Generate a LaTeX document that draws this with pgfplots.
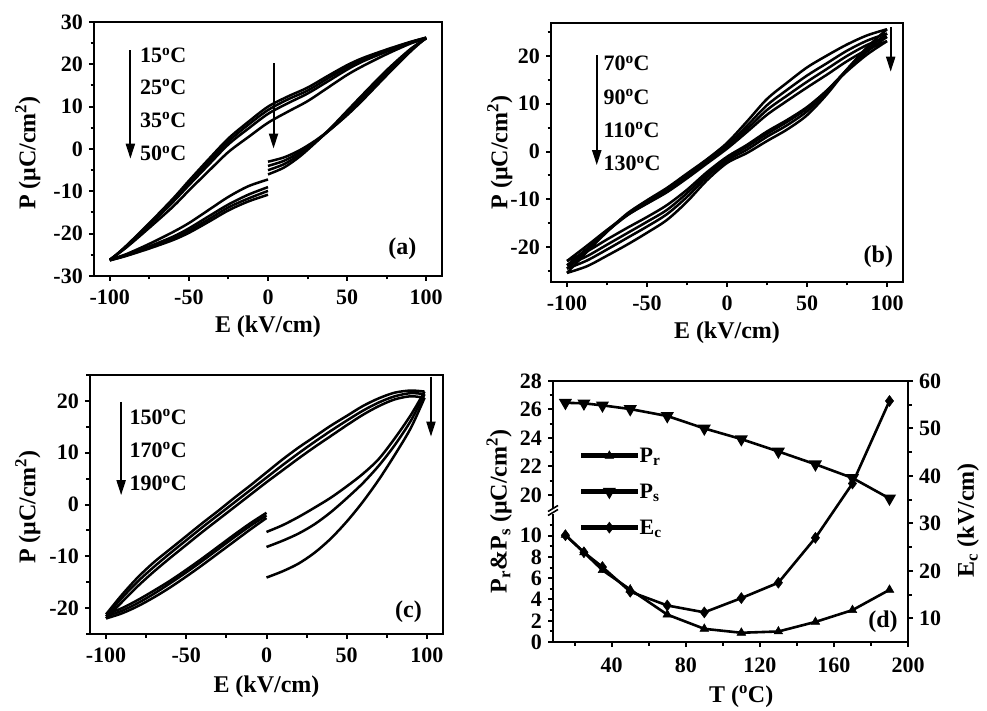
\documentclass[border=0pt]{standalone}
\usepackage{fontspec}
\setmainfont{Liberation Serif}
\usepackage{pgfplots}
\pgfplotsset{compat=1.18}
\usetikzlibrary{arrows.meta}

\newcommand\tickfont{\fontsize{22}{24}\selectfont\bfseries}
\newcommand\labfont{\fontsize{24}{28}\selectfont\bfseries}
\newcommand\annfont{\fontsize{22}{24}\selectfont\bfseries}

\tikzset{
  arr/.style={-{Triangle[length=15pt,width=9pt]}, line width=2pt},
  ann/.style={font=\annfont, anchor=west, inner sep=0pt},
}
\pgfplotsset{
  base/.style={scale only axis, anchor=south west, tick align=outside,
    axis line style={line width=2.6pt,-},
    major tick length=5pt, minor tick length=3.5pt,
    tick style={black,line width=2pt},
    tick label style={font=\tickfont, inner sep=2pt},
    xticklabel style={yshift=-7pt},
    /pgf/number format/assume math mode=true,
    clip mode=individual},
  yl/.style={yticklabel style={xshift=-4pt}},
  panel/.style={base, yl, xmin=-110, xmax=110, xtick={-100,-50,0,50,100},
    minor xtick={-75,-25,25,75}, tick pos=left,
    xlabel={E (kV/cm)}, ylabel={P (μC/cm\textsuperscript{2})}},
  loop/.style={black, line width=2.5pt, smooth, mark=none},
  dline/.style={black, line width=2.6pt, mark size=5pt,
    mark options={solid, line width=0.5pt, fill=black}},
}

\begin{document}
\begin{tikzpicture}[x=1pt,y=1pt]
\useasboundingbox (0,0) rectangle (987,710);

% ---------------- (a) ----------------
\begin{axis}[panel, at={(94pt,434pt)}, width=348pt, height=254pt,
  ymin=-30, ymax=30, ytick={-30,-20,...,30}, minor ytick={-25,-15,...,25},
  xlabel style={at={(axis description cs:0.5,-0.2)}, anchor=center, font=\labfont},
  ylabel style={at={(axis description cs:-0.19,0.484)}, anchor=center, font=\labfont}]
% 15 C
\addplot[loop] coordinates {(0,-3.0) (10,-2.0) (20,-0.3) (30,2.0) (40,4.8) (50,8.0) (60,11.6) (75,17.4) (90,23.0) (100,26.3)};
\addplot[loop] coordinates {(100,26.3) (90,25.3) (75,23.5) (60,21.5) (50,19.8) (37.5,17.2) (25,14.5) (12.5,12.4) (0,10.0) (-12.5,6.4) (-25,2.5) (-37.5,-2.4) (-50,-7.5) (-60,-11.7) (-75,-17.5) (-90,-23.0) (-100,-26.3)};
\addplot[loop] coordinates {(-100,-26.3) (-90,-25.3) (-75,-23.5) (-60,-21.5) (-50,-19.8) (-37.5,-17.2) (-25,-14.5) (-12.5,-12.4) (0,-10.8)};
% 25 C
\addplot[loop] coordinates {(0,-4.0) (10,-2.8) (20,-0.8) (30,1.8) (40,4.8) (50,8.2) (60,11.9) (75,17.7) (90,23.2) (100,26.3)};
\addplot[loop] coordinates {(100,26.3) (90,25.2) (75,23.3) (60,21.1) (50,19.3) (37.5,16.6) (25,13.8) (12.5,11.7) (0,9.2) (-12.5,5.7) (-25,1.8) (-37.5,-3.0) (-50,-8.0) (-60,-12.1) (-75,-17.7) (-90,-23.1) (-100,-26.3)};
\addplot[loop] coordinates {(-100,-26.3) (-90,-25.2) (-75,-23.3) (-60,-21.1) (-50,-19.3) (-37.5,-16.6) (-25,-13.8) (-12.5,-11.7) (0,-9.9)};
% 35 C
\addplot[loop] coordinates {(0,-5.0) (10,-3.6) (20,-1.3) (30,1.6) (40,4.9) (50,8.5) (60,12.3) (75,18.0) (90,23.4) (100,26.2)};
\addplot[loop] coordinates {(100,26.2) (90,25.1) (75,23.0) (60,20.7) (50,18.75) (37.5,15.9) (25,13.1) (12.5,10.8) (0,8.3) (-12.5,4.8) (-25,1.1) (-37.5,-3.7) (-50,-8.55) (-60,-12.5) (-75,-18.0) (-90,-23.2) (-100,-26.2)};
\addplot[loop] coordinates {(-100,-26.2) (-90,-25.1) (-75,-23.0) (-60,-20.7) (-50,-18.75) (-37.5,-15.9) (-25,-13.1) (-12.5,-10.8) (0,-9.0)};
% 50 C
\addplot[loop] coordinates {(0,-6.0) (10,-4.4) (20,-1.8) (30,1.5) (40,5.1) (50,9.0) (60,12.9) (75,18.6) (90,23.6) (100,26.1)};
\addplot[loop] coordinates {(100,26.1) (90,24.9) (75,22.4) (60,19.6) (50,17.5) (37.5,14.4) (25,11.3) (12.5,8.8) (0,6.2) (-12.5,2.8) (-25,-0.7) (-37.5,-5.2) (-50,-9.8) (-60,-13.6) (-75,-18.6) (-90,-23.4) (-100,-26.1)};
\addplot[loop] coordinates {(-100,-26.1) (-90,-24.9) (-75,-22.4) (-60,-19.6) (-50,-17.5) (-37.5,-14.4) (-25,-11.3) (-12.5,-8.8) (0,-7.2)};
\draw[arr] (axis cs:-87,23.3) -- (axis cs:-87,-2.3);
\draw[arr] (axis cs:3.5,20.2) -- (axis cs:3.5,0.1);
\node[ann] at (axis cs:-81,22.1) {15\textsuperscript{o}C};
\node[ann] at (axis cs:-81,14.6) {25\textsuperscript{o}C};
\node[ann] at (axis cs:-81,6.8) {35\textsuperscript{o}C};
\node[ann] at (axis cs:-81,-1.1) {50\textsuperscript{o}C};
\node[font=\labfont] at (axis cs:85,-23.5) {(a)};
\end{axis}

% ---------------- (b) ----------------
\begin{axis}[panel, at={(551pt,428pt)}, width=352pt, height=259pt,
  ymin=-27.3, ymax=26.9, ytick={-20,-10,...,20}, minor ytick={-25,-15,...,25},
  xlabel style={at={(axis description cs:0.5,-0.197)}, anchor=center, font=\labfont},
  ylabel style={at={(axis description cs:-0.145,0.5)}, anchor=center, font=\labfont}]
% 70 C
\addplot[loop] coordinates {(100,25.6) (87.5,24.3) (75,22.4) (62.5,20.1) (50,17.6) (37.5,14.4) (25,11.0) (12.5,6.3) (0,1.8) (-12.5,-1.6) (-25,-4.6) (-37.5,-7.6) (-50,-10.2) (-62.5,-13.0) (-75,-16.8) (-87.5,-21.0) (-100,-25.4)};
\addplot[loop] coordinates {(-100,-25.4) (-87.5,-24.0) (-75,-21.8) (-62.5,-19.5) (-50,-17.0) (-37.5,-14.3) (-25,-10.5) (-12.5,-6.0) (0,-2.4) (12.5,-0.3) (25,2.2) (37.5,4.6) (50,7.6) (62.5,12.0) (75,17.2) (87.5,21.8) (100,25.6)};
% 90 C
\addplot[loop] coordinates {(100,24.7) (87.5,23.2) (75,21.1) (62.5,18.5) (50,15.9) (37.5,12.9) (25,9.7) (12.5,5.4) (0,1.3) (-12.5,-2.0) (-25,-5.1) (-37.5,-8.1) (-50,-10.6) (-62.5,-13.2) (-75,-16.7) (-87.5,-20.6) (-100,-24.5)};
\addplot[loop] coordinates {(-100,-24.5) (-87.5,-22.8) (-75,-20.5) (-62.5,-18.1) (-50,-15.7) (-37.5,-13.1) (-25,-9.5) (-12.5,-5.3) (0,-1.9) (12.5,0.4) (25,3.1) (37.5,5.5) (50,8.4) (62.5,12.4) (75,17.2) (87.5,21.3) (100,24.7)};
% 110 C
\addplot[loop] coordinates {(100,24.0) (87.5,22.3) (75,20.0) (62.5,17.3) (50,14.6) (37.5,11.7) (25,8.7) (12.5,4.7) (0,0.9) (-12.5,-2.3) (-25,-5.4) (-37.5,-8.4) (-50,-10.8) (-62.5,-13.4) (-75,-16.7) (-87.5,-20.3) (-100,-23.8)};
\addplot[loop] coordinates {(-100,-23.8) (-87.5,-21.9) (-75,-19.5) (-62.5,-17.1) (-50,-14.7) (-37.5,-12.2) (-25,-8.7) (-12.5,-4.8) (0,-1.5) (12.5,1.0) (25,3.7) (37.5,6.2) (50,9.0) (62.5,12.8) (75,17.1) (87.5,20.9) (100,24.0)};
% 130 C
\addplot[loop] coordinates {(100,23.1) (87.5,21.3) (75,18.9) (62.5,16.1) (50,13.4) (37.5,10.6) (25,7.7) (12.5,4.1) (0,0.6) (-12.5,-2.5) (-25,-5.6) (-37.5,-8.5) (-50,-10.9) (-62.5,-13.3) (-75,-16.4) (-87.5,-19.7) (-100,-22.9)};
\addplot[loop] coordinates {(-100,-22.9) (-87.5,-20.9) (-75,-18.4) (-62.5,-16.0) (-50,-13.7) (-37.5,-11.2) (-25,-8.0) (-12.5,-4.3) (0,-1.1) (12.5,1.4) (25,4.2) (37.5,6.6) (50,9.3) (62.5,12.8) (75,16.8) (87.5,20.3) (100,23.1)};
\draw[arr] (axis cs:-81.4,20.2) -- (axis cs:-81.4,-2.85);
\draw[arr] (axis cs:102.3,26.1) -- (axis cs:102.3,16.7);
\node[ann] at (axis cs:-77.3,18.4) {70\textsuperscript{o}C};
\node[ann] at (axis cs:-77.3,11.4) {90\textsuperscript{o}C};
\node[ann] at (axis cs:-77.3,4.5) {110\textsuperscript{o}C};
\node[ann] at (axis cs:-77.3,-2.5) {130\textsuperscript{o}C};
\node[font=\labfont] at (axis cs:94.6,-22) {(b)};
\end{axis}

% ---------------- (c) ----------------
\begin{axis}[panel, at={(90pt,76pt)}, width=353pt, height=259pt,
  ymin=-25, ymax=25, ytick={-20,-10,...,20}, minor ytick={-25,-15,...,25},
  xlabel style={at={(axis description cs:0.5,-0.205)}, anchor=center, font=\labfont},
  ylabel style={at={(axis description cs:-0.176,0.49)}, anchor=center, font=\labfont}]
% 150 C
\addplot[loop] coordinates {(0,-5.3) (10,-4.0) (20,-2.4) (30,-0.6) (40,1.3) (50,3.5) (60,5.9) (70,8.8) (80,12.8) (90,17.3) (98.5,21.8)};
\addplot[loop] coordinates {(98.5,21.8) (90,22.0) (80,21.6) (70,20.5) (60,19.0) (50,17.1) (40,15.2) (30,13.1) (20,11.0) (10,8.7) (0,6.2) (-10,3.7) (-20,1.3) (-30,-1.2) (-40,-3.6) (-50,-6.1) (-60,-8.6) (-70,-11.1) (-80,-14.0) (-90,-17.4) (-100,-21.2)};
\addplot[loop] coordinates {(-100,-21.2) (-90,-20.0) (-80,-18.4) (-70,-16.6) (-60,-14.7) (-50,-12.6) (-40,-10.4) (-30,-8.1) (-20,-5.8) (-10,-3.6) (0,-1.6)};
% 170 C
\addplot[loop] coordinates {(0,-8.2) (10,-7.0) (20,-5.6) (30,-3.8) (40,-1.5) (50,1.2) (60,4.1) (70,7.5) (80,11.5) (90,16.2) (98.5,21.3)};
\addplot[loop] coordinates {(98.5,21.3) (90,21.5) (80,20.9) (70,19.7) (60,18.1) (50,16.2) (40,14.2) (30,12.1) (20,9.9) (10,7.6) (0,5.2) (-10,2.8) (-20,0.4) (-30,-2.0) (-40,-4.4) (-50,-6.9) (-60,-9.4) (-70,-12.0) (-80,-14.8) (-90,-18.0) (-100,-21.6)};
\addplot[loop] coordinates {(-100,-21.6) (-90,-20.5) (-80,-19.0) (-70,-17.2) (-60,-15.2) (-50,-13.1) (-40,-10.9) (-30,-8.6) (-20,-6.3) (-10,-4.1) (0,-2.1)};
% 190 C
\addplot[loop] coordinates {(0,-14.1) (10,-12.9) (20,-11.4) (30,-9.3) (40,-6.6) (50,-3.3) (60,0.5) (70,4.8) (80,9.6) (90,14.8) (98.5,20.6)};
\addplot[loop] coordinates {(98.5,20.6) (90,20.9) (80,20.3) (70,19.0) (60,17.3) (50,15.3) (40,13.2) (30,11.1) (20,8.9) (10,6.6) (0,4.3) (-10,1.9) (-20,-0.5) (-30,-2.9) (-40,-5.3) (-50,-7.8) (-60,-10.3) (-70,-12.9) (-80,-15.7) (-90,-18.8) (-100,-22.0)};
\addplot[loop] coordinates {(-100,-22.0) (-90,-21.0) (-80,-19.6) (-70,-17.9) (-60,-16.0) (-50,-13.9) (-40,-11.7) (-30,-9.4) (-20,-7.1) (-10,-4.8) (0,-2.6)};
\draw[arr] (axis cs:-90.6,19.8) -- (axis cs:-90.6,1.8);
\draw[arr] (axis cs:102.5,24.7) -- (axis cs:102.5,13.1);
\node[ann] at (axis cs:-85.4,16.9) {150\textsuperscript{o}C};
\node[ann] at (axis cs:-85.4,10.5) {170\textsuperscript{o}C};
\node[ann] at (axis cs:-85.4,4.1) {190\textsuperscript{o}C};
\node[font=\labfont] at (axis cs:88.5,-20.7) {(c)};
\end{axis}

% ---------------- (d) ----------------
% lower left segment: P_r
\begin{axis}[base, yl, at={(553pt,68pt)}, width=355pt, height=130.3pt,
  xmin=8.3, xmax=200, ymin=0, ymax=12.26,
  axis x line=none, axis y line*=left, axis line style={line width=2.6pt,-},
  ytick={0,2,...,10}, minor ytick={1,3,...,11}]
\addplot[dline, mark=triangle*] coordinates {(15,10.07) (25,8.43) (35,6.76) (50,4.94) (70,2.58) (90,1.24) (110,0.87) (130,0.99) (150,1.89) (170,3.0) (190,4.91)};
\end{axis}
% upper left segment: P_s
\begin{axis}[base, yl, at={(553pt,198.3pt)}, width=355pt, height=130.7pt,
  xmin=8.3, xmax=200, ymin=18.82, ymax=28,
  axis x line=none, axis y line*=left, axis line style={line width=2.6pt,-},
  ytick={20,22,...,28}, minor ytick={21,23,25,27}]
\addplot[dline, mark=triangle*, mark options={rotate=180}] coordinates {(15,26.47) (25,26.43) (35,26.29) (50,26.03) (70,25.54) (90,24.67) (110,23.92) (130,23.05) (150,22.15) (170,21.19) (190,19.75)};
\end{axis}
% right axis: E_c, box, x ticks, legend
\begin{axis}[base, at={(553pt,68pt)}, width=355pt, height=261pt,
  xmin=8.3, xmax=200, ymin=5, ymax=60,
  xtick={40,80,...,200}, minor xtick={20,60,...,180},
  ytick={10,20,...,60}, minor ytick={15,25,...,55},
  xtick pos=left, ytick pos=right, yticklabel pos=right,
  yticklabel style={xshift=4pt}, xticklabel style={yshift=-2pt},
  xlabel={T (\textsuperscript{o}C)}, ylabel={E\textsubscript{c} (kV/cm)},
  xlabel style={at={(axis description cs:0.53,-0.21)}, anchor=center, font=\labfont},
  ylabel style={at={(axis description cs:1.169,0.467)}, anchor=center, font=\labfont},
  legend image code/.code={\fill[black] (0pt,-1.3pt) rectangle (54pt,1.3pt);
    \draw[mark repeat=2,mark phase=2,#1] plot coordinates {(0pt,0pt) (27pt,0pt) (54pt,0pt)};},
  legend style={at={(axis description cs:0.07,0.76)}, anchor=north west, draw=none, fill=none,
    font=\annfont, row sep=16pt},
  legend cell align=left]
\addlegendimage{dline, mark=triangle*}
\addlegendentry{P\textsubscript{r}}
\addlegendimage{dline, mark=triangle*, mark options={rotate=180}}
\addlegendentry{P\textsubscript{s}}
\addplot[dline, mark=diamond*, mark size=5.5pt] coordinates {(15,27.5) (25,23.9) (35,20.8) (50,15.6) (70,12.7) (90,11.25) (110,14.25) (130,17.5) (150,26.95) (170,38.4) (190,55.8)};
\addlegendentry{E\textsubscript{c}}
\node[font=\labfont] at (axis cs:186.5,9.2) {(d)};
\node[rotate=90, font=\labfont] at (axis description cs:-0.152,0.5) {P\textsubscript{r}\&P\textsubscript{s} (μC/cm\textsuperscript{2})};
\end{axis}
% axis break on the left of (d)
\fill[white] (549.5,196.5) rectangle (556.5,202);
\draw[line width=1.6pt] (548,194.5) -- (558,200.5);
\draw[line width=1.6pt] (548,198.5) -- (558,204.5);
\end{tikzpicture}
\end{document}
